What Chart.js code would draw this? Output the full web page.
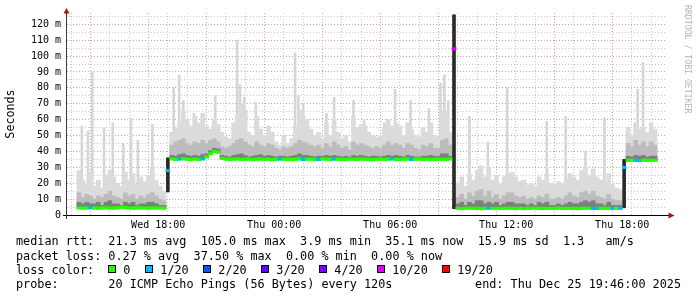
<!DOCTYPE html>
<html>
<head>
<meta charset="utf-8">
<script src="https://cdn.jsdelivr.net/npm/chart.js@4"></script>
<style>
html, body { margin: 0; padding: 0; background: #fff; }
canvas { display: block; }
</style>
</head>
<body>
<canvas id="smokeGraph" width="697" height="297"></canvas>
<script>
// one column = 12 minutes, first column starts Wed 13:48 (hours counted from Wed 00:00)
const startHour = 13.8;
const endHour = 43.8;
const stepHour = 0.2;

// median rtt per column, ms
const median = [
  4.4,4.3,4.4,4.5,4.4,4.2,4.4,4.6,4.4,4.3,
  4.5,4.9,4.7,4.4,4.3,4.5,4.6,4.4,4.3,4.4,
  4.5,4.4,4.3,
  28,
  35.3,35.0,35.2,35.4,35.1,34.8,35.2,35.0,35.3,36.5,
  38.5,40.0,39.5,35.6,35.2,35.0,35.1,35.3,35.0,35.1,
  35.2,34.9,35.1,35.3,35.0,35.1,34.8,35.0,35.2,35.1,
  35.0,34.9,35.1,35.3,35.0,35.1,35.2,34.9,35.0,35.3,
  35.1,35.0,35.2,35.1,34.9,35.0,35.2,35.1,35.0,35.3,
  35.1,35.0,34.8,35.1,35.2,35.0,35.1,35.3,35.0,34.9,
  35.1,35.2,35.0,35.1,35.3,35.0,35.1,34.9,35.0,35.2,
  35.1,35.0,35.2,
  104.5,
  4.2,4.1,4.2,4.3,4.2,4.2,4.0,4.2,4.3,4.2,
  4.1,4.2,4.2,4.3,4.1,4.2,4.2,4.0,4.2,4.2,
  4.3,4.2,4.1,4.2,4.2,4.2,4.3,4.1,4.2,4.2,
  4.2,4.0,4.2,4.3,4.2,4.1,4.2,4.2,4.3,4.2,
  4.1,4.2,4.2,
  30,
  34.3,34.5,34.4,34.2,34.5,34.4,34.3,34.4
];

// smoke: top of the dark, middle and light bands per column, ms
const darkTop = [
  8,7,8,7,7,8,6,8,9,7,7,6,8,7,8,6,7,7,8,8,7,6,6,
  null,
  37.5,37,38,38.5,37.5,37,37.5,37,38,38.5,
  40.5,42,41.5,37.5,37,36.5,37.5,38,38.5,37.5,
  36.5,37,37.5,38,37,37.5,37,36.5,37,37,
  36.5,37,37.5,38.5,37.5,37.5,37,36.5,37,37,
  37.5,37,37.5,37,36.5,37,36.5,37.5,37,37.5,
  37,36.5,37,37,36.5,37,37.5,37,37.5,37,
  36.5,37.5,37,36.5,36.5,37,37,37.5,37,37,
  38.5,38.5,37,
  null,
  7,8,6,8,7,9,9,7,8,7,
  8,6,7,8,8,7,7,7,6,7,
  6,8,7,8,6,6,7,6,7,8,
  7,7,8,9,8,9,7,7,6,8,
  6,6,6,
  null,
  37,36.5,37.5,37,37.5,36.5,37,37
];

const midTop = [
  14,11,13,12,10,12,11,13,15,12,11,10,14,12,13,10,12,11,13,14,12,10,9,
  null,
  44,46,47,48,45,44,46,45,47,45,
  47,48,46,43,42,43,45,47,48,46,
  44,43,46,44,43,45,44,42,41,43,
  42,43,45,47,46,45,44,43,44,42,
  45,43,46,44,42,43,41,46,44,45,
  44,43,42,43,42,44,46,44,45,44,
  42,45,44,42,41,44,43,45,42,42,
  47,48,44,
  null,
  11,13,10,14,12,15,16,12,15,11,
  13,10,12,14,14,12,11,12,10,11,
  10,12,11,13,10,10,11,10,12,14,
  12,11,14,15,13,15,12,11,10,13,
  10,9,9,
  null,
  45,43,47,44,46,43,46,44
];

const lightTop = [
  28,22,20,26,18,22,17,25,28,24,20,18,27,22,26,19,24,21,25,30,22,18,15,
  null,
  52,55,58,66,60,56,62,58,64,56,
  54,60,57,52,49,48,58,62,70,66,
  52,50,62,54,50,56,52,46,44,50,
  45,48,56,66,62,60,54,50,52,48,
  58,50,60,52,48,50,46,62,55,57,
  56,52,50,49,50,55,60,56,58,56,
  50,58,54,50,49,55,52,58,50,49,
  64,66,52,
  null,
  20,24,18,26,22,28,31,24,30,22,
  25,20,24,26,27,24,21,22,19,20,
  18,24,22,26,20,19,21,20,23,26,
  24,22,28,30,25,29,24,22,20,26,
  19,17,16,
  null,
  55,50,56,54,55,52,58,54
];

// single tall pings (hour, ms)
const spikeHour = [14.05,14.37,14.59,15.2,15.65,16.2,16.59,16.95,17.7,
  18.8,19.08,19.3,19.85,20.95,22.08,22.23,22.45,23.05,25.08,25.25,25.5,26.7,27.1,28.1,
  28.65,29.7,30.25,31.05,32.0,32.6,32.8,33.0,
  34.1,35.05,36.05,38.1,39.08,40.1,41.08,
  42.65,42.8,43.08];
const spikeTop = [56,53,90,55,58,45,61,47,57,
  80,88,72,64,75,110,82,74,71,102,75,70,64,74,72,
  60,58,79,72,67,83,88,72,
  62,46,80,59,62,40,61,
  58,79,96];

// columns where the level jumps (ms range of the dark streak)
const jumpCol = [23, 97, 141];
const jumpLow = [14.5, 4, 4.5];
const jumpHigh = [36, 126, 35];

// columns with packet loss (pings lost out of 20)
const lossCol = [3,23,26,32,52,58,62,66,81,86,97,106,133,134,138,140,141,144,145];
const lossCount = [1,1,1,1,1,1,1,1,1,1,10,1,1,1,1,1,1,1,1];

const lossSteps = [0, 1, 2, 3, 4, 10, 19];
const lossLabels = ['0', '1/20', '2/20', '3/20', '4/20', '10/20', '19/20'];
const lossColors = ['#26ff00', '#00b8ff', '#0059ff', '#5e00ff', '#7e00ff', '#dd00ff', '#ff0000'];

const legendLines = [
  'median rtt:  21.3 ms avg  105.0 ms max  3.9 ms min  35.1 ms now  15.9 ms sd  1.3   am/s',
  'packet loss: 0.27 % avg  37.50 % max  0.00 % min  0.00 % now',
  'loss color:',
  'probe:       20 ICMP Echo Pings (56 Bytes) every 120s'
];
const endStamp = 'end: Thu Dec 25 19:46:00 2025';
const watermark = 'RRDTOOL / TOBI OETIKER';

const hourTicks = [];
for (let h = 14; h <= 43; h++) hourTicks.push(h);

const MONO = '"DejaVu Sans Mono", "Liberation Mono", monospace';
const majorGrid = '#e39c9c';
const minorGrid = '#c8c8c8';

const colHour = i => startHour + stepHour * (i + 0.5);
const colOf = h => Math.floor((h - startHour) / stepHour);
const lossOf = i => { const k = lossCol.indexOf(i); return k < 0 ? 0 : lossCount[k]; };
const lossColor = n => {
  let c = lossColors[0];
  lossSteps.forEach((s, k) => { if (n >= s) c = lossColors[k]; });
  return c;
};

const band = tops => tops
  .map((top, i) => top === null ? null : {x: colHour(i), y: [median[i], top]})
  .filter(p => p);

const dayLabel = v => {
  const day = v < 24 ? 'Wed' : 'Thu';
  const hh = String(v % 24).padStart(2, '0');
  return day + ' ' + hh + ':00';
};

const rrdFrame = {
  id: 'rrdFrame',
  afterDraw(chart) {
    const ctx = chart.ctx;
    const {left, right, top, bottom} = chart.chartArea;
    ctx.save();

    // axes
    ctx.lineWidth = 1;
    ctx.strokeStyle = '#000';
    ctx.beginPath();
    ctx.moveTo(left - 4, bottom + 0.5);
    ctx.lineTo(right + 2, bottom + 0.5);
    ctx.stroke();
    ctx.strokeStyle = '#3a3a3a';
    ctx.beginPath();
    ctx.moveTo(left - 0.5, bottom + 4);
    ctx.lineTo(left - 0.5, top - 2);
    ctx.stroke();

    // arrow heads
    ctx.fillStyle = '#a01818';
    ctx.beginPath();
    ctx.moveTo(left - 3.5, top + 0.5);
    ctx.lineTo(left + 2.5, top + 0.5);
    ctx.lineTo(left - 0.5, top - 5);
    ctx.closePath();
    ctx.fill();
    ctx.beginPath();
    ctx.moveTo(right + 1.5, bottom - 2.5);
    ctx.lineTo(right + 1.5, bottom + 3.5);
    ctx.lineTo(right + 7.5, bottom + 0.5);
    ctx.closePath();
    ctx.fill();

    // watermark
    ctx.fillStyle = '#b4b4b4';
    ctx.font = '8.2px ' + MONO;
    ctx.textBaseline = 'middle';
    ctx.textAlign = 'left';
    ctx.translate(687.5, 5);
    ctx.rotate(Math.PI / 2);
    ctx.fillText(watermark, 0, 0);
    ctx.setTransform(1, 0, 0, 1, 0, 0);

    // legend
    ctx.fillStyle = '#000';
    ctx.font = '11.8px ' + MONO;
    ctx.textBaseline = 'alphabetic';
    const baselines = [245, 259.5, 273.5, 287.5];
    legendLines.forEach((line, k) => ctx.fillText(line, 16, baselines[k]));
    ctx.textAlign = 'right';
    ctx.fillText(endStamp, 681, baselines[3]);
    ctx.textAlign = 'left';

    let x = 108;
    lossLabels.forEach((label, k) => {
      ctx.fillStyle = lossColors[k];
      ctx.fillRect(x, 265, 8, 8);
      ctx.strokeStyle = '#000';
      ctx.strokeRect(x + 0.5, 265.5, 7, 7);
      ctx.fillStyle = '#000';
      const tx = x + 15.3;
      ctx.fillText(label, tx, baselines[2]);
      x = Math.round(tx + ctx.measureText(label).width + 14.5);
    });

    ctx.restore();
  }
};

const graph = new Chart(document.getElementById('smokeGraph'), {
  type: 'bar',
  data: {
    datasets: [
      {
        label: 'median',
        order: 1,
        barThickness: 4,
        data: median.map((m, i) => ({x: colHour(i), y: [m - 0.8, m + 0.8]})),
        backgroundColor: median.map((m, i) => lossColor(lossOf(i)))
      },
      {
        label: 'jump',
        order: 2,
        barThickness: 3,
        data: jumpCol.map((c, k) => ({x: colHour(c), y: [jumpLow[k], jumpHigh[k]]})),
        backgroundColor: '#2a2a2a'
      },
      {label: 'dark', order: 3, barThickness: 4, data: band(darkTop), backgroundColor: '#7e7e7e'},
      {label: 'mid', order: 4, barThickness: 4, data: band(midTop), backgroundColor: '#bcbcbc'},
      {label: 'light', order: 5, barThickness: 4, data: band(lightTop), backgroundColor: '#dbdbdb'},
      {
        label: 'spikes',
        order: 6,
        barThickness: 2,
        data: spikeHour.map((h, k) => ({x: h, y: [median[colOf(h)], spikeTop[k]]})),
        backgroundColor: '#d6d6d6'
      }
    ]
  },
  options: {
    responsive: false,
    animation: false,
    devicePixelRatio: 1,
    layout: {padding: {top: 13, right: 30, left: 0, bottom: 0}},
    plugins: {legend: {display: false}, tooltip: {enabled: false}},
    datasets: {bar: {grouped: false, borderWidth: 0}},
    scales: {
      x: {
        type: 'linear',
        min: startHour,
        max: endHour,
        z: 1,
        afterBuildTicks: axis => { axis.ticks = hourTicks.map(v => ({value: v})); },
        afterFit: axis => { axis.height = 82; },
        grid: {
          drawTicks: false,
          color: c => (c.tick && c.tick.value % 3 === 0) ? majorGrid : minorGrid
        },
        border: {display: false, dash: [1, 2]},
        ticks: {
          autoSkip: false,
          maxRotation: 0,
          minRotation: 0,
          padding: 4,
          color: '#000',
          font: {family: MONO, size: 10},
          callback: v => v % 6 === 0 ? dayLabel(v) : ''
        }
      },
      y: {
        min: 0,
        max: 127.1,
        z: 1,
        afterBuildTicks: axis => {
          const t = [];
          for (let v = 0; v <= 125; v += 5) t.push({value: v});
          axis.ticks = t;
        },
        afterFit: axis => { axis.width = 67; },
        grid: {
          drawTicks: false,
          color: c => (c.tick && c.tick.value % 10 === 0) ? majorGrid : minorGrid
        },
        border: {display: false, dash: [1, 2]},
        title: {
          display: true,
          text: 'Seconds',
          color: '#000',
          font: {family: MONO, size: 11.7},
          padding: {top: 4, bottom: 0}
        },
        ticks: {
          autoSkip: false,
          padding: 6,
          color: '#000',
          font: {family: MONO, size: 10},
          callback: v => v === 0 ? '0' : (v % 10 === 0 ? v + ' m' : '')
        }
      }
    }
  },
  plugins: [rrdFrame]
});
</script>
</body>
</html>
